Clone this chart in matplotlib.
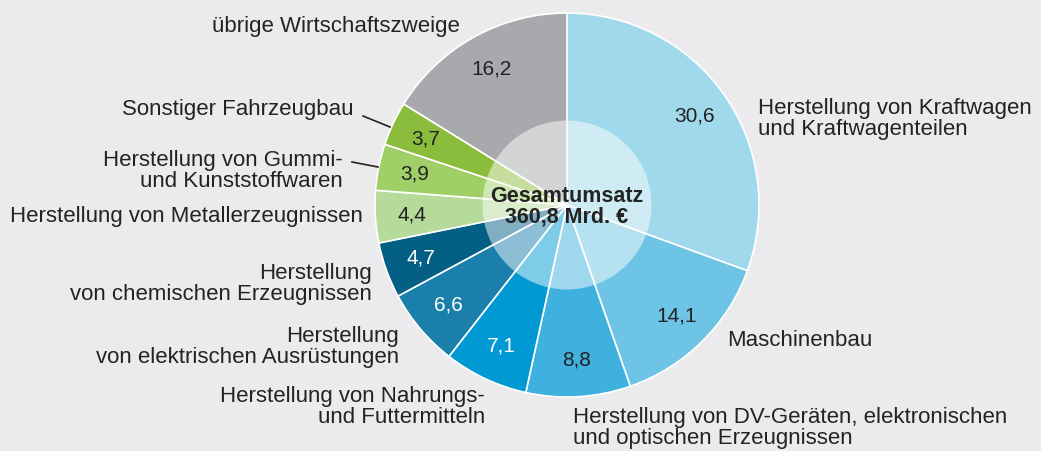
import numpy as np
import matplotlib.pyplot as plt
from matplotlib.patches import Circle

# --- Daten ---
branchen = [
    "Herstellung von Kraftwagen\nund Kraftwagenteilen",
    "Maschinenbau",
    "Herstellung von DV-Geräten, elektronischen\nund optischen Erzeugnissen",
    "Herstellung von Nahrungs-\nund Futtermitteln",
    "Herstellung\nvon elektrischen Ausrüstungen",
    "Herstellung\nvon chemischen Erzeugnissen",
    "Herstellung von Metallerzeugnissen",
    "Herstellung von Gummi-\nund Kunststoffwaren",
    "Sonstiger Fahrzeugbau",
    "übrige Wirtschaftszweige",
]
anteile = [30.6, 14.1, 8.8, 7.1, 6.6, 4.7, 4.4, 3.9, 3.7, 16.2]
farben = ["#a0d9ec", "#6ec4e4", "#3fb1de", "#0099d4", "#1a80ab",
          "#035f84", "#b5da9a", "#a0cf68", "#8bbd3c", "#a8a9ad"]
textfarben = ["#222222"] * 3 + ["white"] * 3 + ["#222222"] * 4
gesamt = "Gesamtumsatz\n360,8 Mrd. €"

# --- Layout (Pixel der Vorlage) ---
W, H = 1041, 451
cx, cy, R = 567, 205, 192


def px(x, y):
    """Pixelkoordinaten -> Datenkoordinaten (Kreis = Einheitskreis)."""
    return (x - cx) / R, (cy - y) / R


# Position der Beschriftungen: (x, y, Ausrichtung)
beschriftung_pos = [
    (758, 119, "left"),
    (727, 340, "left"),
    (573, 428, "left"),
    (485, 407, "right"),
    (399, 347, "right"),
    (372, 284, "right"),
    (363, 217, "right"),
    (343, 171, "right"),
    (354, 110, "right"),
    (460, 27, "right"),
]
# Hinweislinien fuer kleine Segmente
linien = {
    8: [(363, 116), (390, 127)],
    7: [(352, 162), (378, 167)],
}

plt.rcParams['font.family'] = ['Liberation Sans', 'DejaVu Sans']
schrift = 16
grau = "#232323"

fig = plt.figure(figsize=(W / 100, H / 100), dpi=100)
fig.patch.set_facecolor("#ebebed")
ax = fig.add_axes([0, 0, 1, 1])

wedges, _ = ax.pie(anteile, colors=farben, startangle=90, counterclock=False,
                   radius=1.0, wedgeprops=dict(edgecolor="white", linewidth=1.2))

# Grenzen erst nach pie() setzen, sonst ueberschreibt pie sie
ax.set_xlim(-cx / R, (W - cx) / R)
ax.set_ylim(-(H - cy) / R, cy / R)
ax.set_aspect("equal")
ax.axis("off")

# halbtransparenter Innenkreis
ax.add_patch(Circle((0, 0), 0.44, facecolor="white", alpha=0.5,
                    edgecolor="none", zorder=3))

# Werte in den Segmenten
for w, wert, tf in zip(wedges, anteile, textfarben):
    mitte = np.deg2rad((w.theta1 + w.theta2) / 2)
    r = 0.81
    ax.text(r * np.cos(mitte), r * np.sin(mitte), f"{wert:.1f}".replace(".", ","),
            ha="center", va="center", fontsize=15, color=tf, zorder=4)

# Beschriftungen aussen
for text, (x, y, ha) in zip(branchen, beschriftung_pos):
    ax.text(*px(x, y), text, ha=ha, va="center", fontsize=schrift,
            color=grau, linespacing=1.0, zorder=4)

for pts in linien.values():
    xs, ys = zip(*[px(x, y) for x, y in pts])
    ax.plot(xs, ys, color=grau, linewidth=1.2, zorder=4)

ax.text(0, px(0, 207)[1], gesamt, ha="center", va="center", fontsize=15.5,
        fontweight="bold", color=grau, linespacing=0.95, zorder=5)

fig.savefig("out.png", dpi=100, facecolor=fig.get_facecolor())
